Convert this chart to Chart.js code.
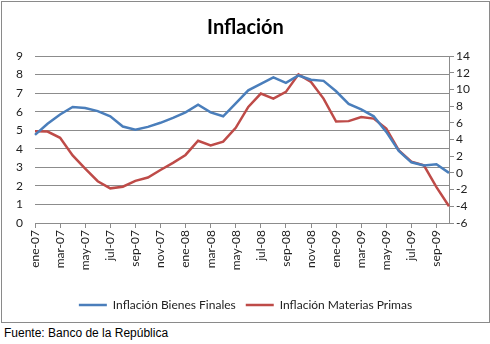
<!DOCTYPE html>
<html>
<head>
<meta charset="utf-8">
<script src="https://cdn.jsdelivr.net/npm/chart.js@4"></script>
<style>
  body { margin: 0; background: #fff; }
  #box { position: absolute; left: 1px; top: 1px; width: 487px; height: 320px; border: 1px solid #8a8a8a; }
  #fuente { position: absolute; left: 4px; top: 326px; font: 12px "Liberation Sans", Arial, sans-serif; color: #000; }
</style>
</head>
<body>
<div id="box"><canvas id="chart" width="487" height="320"></canvas></div>
<div id="fuente">Fuente: Banco de la República</div>
<script>
// meses ene-07 .. oct-09
const months = ["ene", "feb", "mar", "abr", "may", "jun", "jul", "ago", "sep", "oct", "nov", "dic"];
const labels = [];
for (const yr of ["07", "08", "09"]) {
  for (const m of months) labels.push(m + "-" + yr);
}
labels.length = 34;

const bienesFinales = [4.75, 5.35, 5.85, 6.25, 6.2, 6.03, 5.75, 5.2, 5.03, 5.18, 5.4, 5.67,
  5.96, 6.37, 5.96, 5.75, 6.45, 7.15, 7.5, 7.85, 7.55, 7.95, 7.72, 7.66,
  7.1, 6.42, 6.12, 5.75, 4.91, 3.88, 3.27, 3.1, 3.17, 2.7];
const materiasPrimas = [5.0, 4.95, 4.2, 2.1, 0.5, -1.0, -1.85, -1.65, -0.95, -0.55, 0.35, 1.2,
  2.15, 3.85, 3.3, 3.75, 5.4, 7.9, 9.5, 8.9, 9.7, 11.8, 10.9, 8.9,
  6.15, 6.2, 6.7, 6.5, 5.3, 2.7, 1.35, 0.9, -1.7, -4.0];

const fontFam = "Lato, 'Open Sans', sans-serif";
const gridGray = "#8c8c8c";
const txt = "#222";

new Chart(document.getElementById("chart"), {
  type: "line",
  data: {
    labels: labels,
    datasets: [
      {
        label: "Inflación Bienes Finales",
        data: bienesFinales,
        borderColor: "#4a7ebb",
        backgroundColor: "#4a7ebb",
        borderWidth: 2.5,
        pointRadius: 0,
        tension: 0,
        yAxisID: "y",
      },
      {
        label: "Inflación Materias Primas",
        data: materiasPrimas,
        borderColor: "#be4b48",
        backgroundColor: "#be4b48",
        borderWidth: 2.5,
        pointRadius: 0,
        tension: 0,
        yAxisID: "y2",
      },
    ],
  },
  options: {
    responsive: false,
    animation: false,
    layout: { padding: { left: 0, right: 0, top: 0, bottom: 1 } },
    plugins: {
      title: {
        display: true,
        text: "Inflación",
        color: "#000",
        font: { family: fontFam, size: 20, weight: "bold" },
        padding: { top: 14, bottom: 16 },
      },
      legend: {
        position: "bottom",
        labels: {
          usePointStyle: true,
          pointStyle: "line",
          pointStyleWidth: 28,
          color: txt,
          font: { family: fontFam, size: 12 },
          padding: 10,
        },
      },
      tooltip: { enabled: false },
    },
    scales: {
      x: {
        offset: false,
        grid: {
          drawOnChartArea: false,
          tickLength: 5,
          color: (ctx) => (ctx.index % 2 ? "transparent" : gridGray),
        },
        border: { color: gridGray },
        ticks: {
          autoSkip: false,
          minRotation: 90,
          maxRotation: 90,
          color: txt,
          font: { family: fontFam, size: 12 },
          padding: 2,
          callback: (v, i) => (i % 2 ? "" : labels[i]),
        },
        afterFit: (s) => { s.height = 66; },
      },
      y: {
        position: "left",
        min: 0,
        max: 9,
        grid: { color: gridGray, drawTicks: false },
        border: { display: false },
        ticks: {
          stepSize: 1,
          autoSkip: false,
          color: txt,
          padding: 12,
          font: { family: fontFam, size: 12 },
        },
        afterFit: (s) => { s.width = 33; },
      },
      y2: {
        position: "right",
        min: -6,
        max: 14,
        grid: { drawOnChartArea: false, tickLength: 5, color: gridGray },
        border: { color: gridGray },
        ticks: {
          stepSize: 2,
          autoSkip: false,
          color: txt,
          padding: 2,
          font: { family: fontFam, size: 12 },
        },
        afterFit: (s) => { s.width = 40; },
      },
    },
  },
});
</script>
</body>
</html>
